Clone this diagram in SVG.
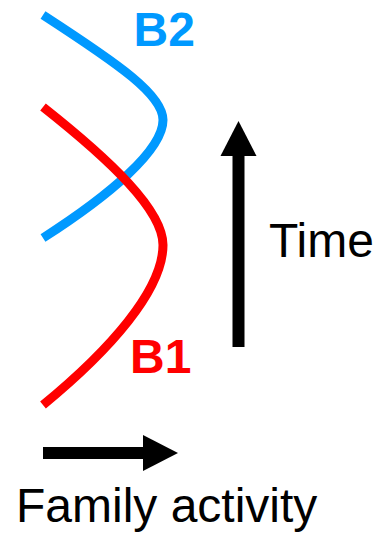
<svg xmlns="http://www.w3.org/2000/svg" width="387" height="537" viewBox="0 0 387 537">
<style>
.curve{fill:none;stroke-width:9;stroke-linecap:butt}
.lbl{font-family:"Liberation Sans",Arial,sans-serif;font-size:48px}
.b{font-weight:bold}
</style>
<rect width="387" height="537" fill="#fff"/>
<g id="connectors">
<g id="time-arrow">
<rect x="232.5" y="150" width="12" height="197" fill="#000"/>
<polygon points="238.5,121 256.5,156 220.5,156" fill="#000"/>
</g>
<g id="activity-arrow">
<rect x="43" y="447" width="106" height="12" fill="#000"/>
<polygon points="178,453 143,435 143,471" fill="#000"/>
</g>
</g>
<g id="B2">
<path class="curve" stroke="#0099FF" d="M43,15 C120,65 163,95 163,120 C163,150 110,195 43,238"/>
<text class="lbl b" x="133.5" y="45.5" fill="#0099FF">B2</text>
</g>
<g id="B1">
<path class="curve" stroke="#FF0000" d="M43,107 C110,160 163,210 163,245 C163,290 110,350 43,405"/>
<text class="lbl b" x="130" y="373" fill="#FF0000">B1</text>
</g>
<g id="labels">
<text class="lbl" x="269" y="257" fill="#000">Time</text>
<text class="lbl" x="16" y="522" fill="#000">Family activity</text>
</g>
</svg>
